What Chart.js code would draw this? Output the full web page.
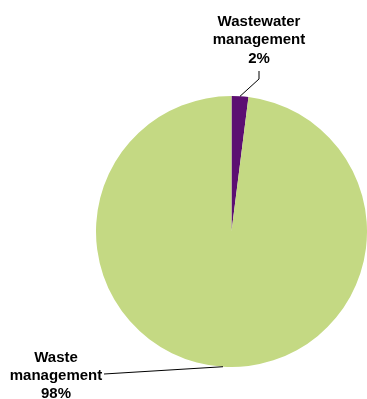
<!DOCTYPE html>
<html>
<head>
<meta charset="utf-8">
<script src="https://cdn.jsdelivr.net/npm/chart.js@4"></script>
<style>
  html, body { margin: 0; padding: 0; background: #fff; }
  #wrap { width: 367px; height: 399px; }
</style>
</head>
<body>
<div id="wrap"><canvas id="pasta"></canvas></div>
<script>
var kategoriler = ["Wastewater management", "Waste management"];
var degerler = [2, 98];
var renkler = ["#5c0f72", "#c4d983"];

// label text lines + where they sit, and leader-line elbows
var etiketler = [
    { satirlar: ["Wastewater", "management", "2%"], x: 259, y: 26, cizgi: [[259, 71], [259, 79]] },
    { satirlar: ["Waste", "management", "98%"], x: 56, y: 361.7, cizgi: [[104, 374]] }
];

var etiketEklentisi = {
    id: 'etiketler',
    afterDatasetsDraw: function(chart) {
        var ctx = chart.ctx;
        var meta = chart.getDatasetMeta(0);
        ctx.save();
        meta.data.forEach(function(arc, i) {
            var e = etiketler[i];
            var p = arc.getProps(['x', 'y', 'startAngle', 'endAngle', 'outerRadius'], true);
            var orta = (p.startAngle + p.endAngle) / 2;
            var ax = p.x + Math.cos(orta) * p.outerRadius;
            var ay = p.y + Math.sin(orta) * p.outerRadius;

            ctx.strokeStyle = '#000';
            ctx.lineWidth = 1;
            ctx.beginPath();
            ctx.moveTo(e.cizgi[0][0], e.cizgi[0][1]);
            for (var k = 1; k < e.cizgi.length; k++) ctx.lineTo(e.cizgi[k][0], e.cizgi[k][1]);
            ctx.lineTo(ax, ay);
            ctx.stroke();

            ctx.fillStyle = '#000';
            ctx.font = 'bold 15px "Liberation Sans", Arial, sans-serif';
            ctx.textAlign = 'center';
            ctx.textBaseline = 'alphabetic';
            e.satirlar.forEach(function(s, j) {
                ctx.fillText(s, e.x, e.y + j * 18.3);
            });
        });
        ctx.restore();
    }
};

var ctx = document.getElementById("pasta").getContext('2d');
var chart = new Chart(ctx, {
    type: 'pie',
    data: {
        labels: kategoriler,
        datasets: [{
            backgroundColor: renkler,
            borderWidth: 0,
            data: degerler
        }]
    },
    options: {
        responsive: true,
        maintainAspectRatio: false,
        animation: false,
        layout: {
            padding: { left: 96, right: 0, top: 96, bottom: 32 }
        },
        plugins: {
            legend: { display: false },
            tooltip: { enabled: false }
        }
    },
    plugins: [etiketEklentisi]
});
</script>
</body>
</html>
